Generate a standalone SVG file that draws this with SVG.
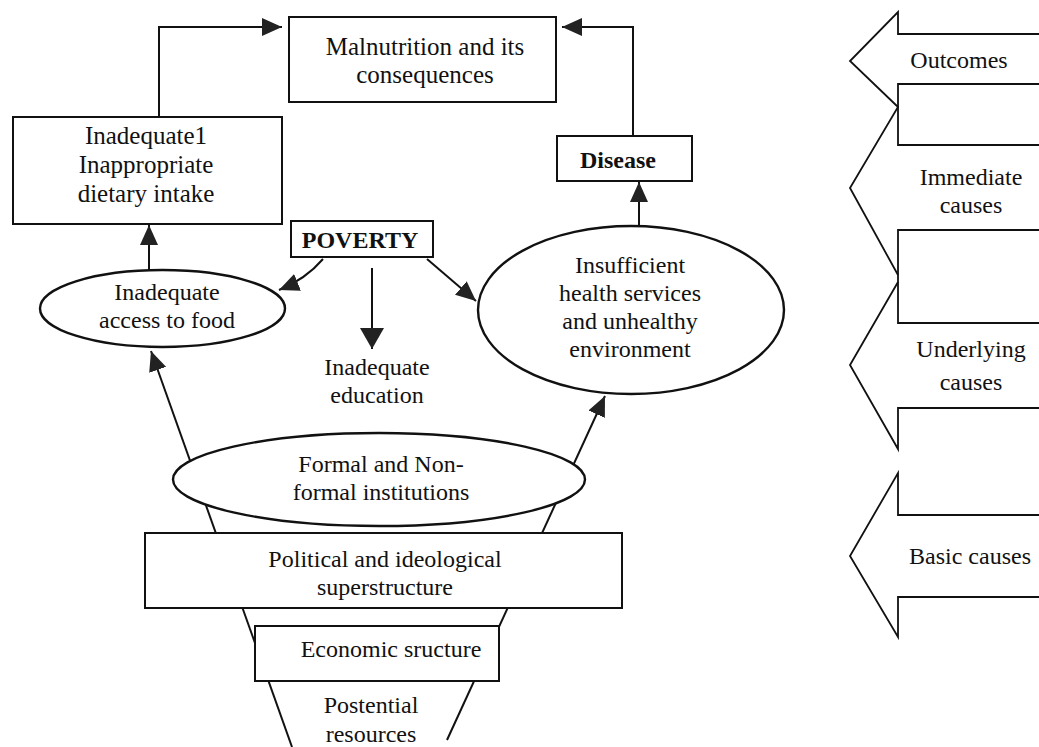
<svg xmlns="http://www.w3.org/2000/svg" width="1039" height="747" viewBox="0 0 1039 747">
  <style>
    .bg { fill: #ffffff; }
    .box { fill: #ffffff; stroke: #111; stroke-width: 2; }
    .oval { fill: #ffffff; stroke: #111; stroke-width: 2.4; }
    .wire { fill: none; stroke: #111; stroke-width: 2; }
    .band { fill: none; stroke: #111; stroke-width: 1.8; stroke-linejoin: miter; }
    .t { font-family: "Liberation Serif", "Times New Roman", serif; font-size: 24px; fill: #111; text-anchor: middle; }
    .big { font-size: 25px; }
    .b { font-weight: bold; }
  </style>
  <defs>
    <marker id="head" markerUnits="userSpaceOnUse" markerWidth="20" markerHeight="18" refX="20" refY="9" orient="auto">
      <path d="M0,0 L20,9 L0,18 z" fill="#222"/>
    </marker>
    <marker id="headWide" markerUnits="userSpaceOnUse" markerWidth="21" markerHeight="24" refX="21" refY="12" orient="auto">
      <path d="M0,0 L21,12 L0,24 z" fill="#222"/>
    </marker>
  </defs>

  <rect class="bg" x="0" y="0" width="1039" height="747"/>

  <!-- connectors (drawn first so that filled nodes sit over the funnel lines) -->
  <g id="connectors">
    <!-- dietary intake -> malnutrition -->
    <polyline class="wire" points="159,117 159,27 282,27" marker-end="url(#head)"/>
    <!-- disease -> malnutrition -->
    <polyline class="wire" points="633,136 633,27 562,27" marker-end="url(#head)"/>
    <!-- access to food -> dietary intake -->
    <line class="wire" x1="149" y1="271" x2="149" y2="225" marker-end="url(#head)"/>
    <!-- health services -> disease -->
    <line class="wire" x1="639" y1="227" x2="639" y2="182" marker-end="url(#head)"/>
    <!-- poverty -> access to food -->
    <path class="wire" d="M323,259 Q306,279 279,290" marker-end="url(#head)"/>
    <!-- poverty -> education -->
    <line class="wire" x1="372" y1="268" x2="372" y2="349" marker-end="url(#headWide)"/>
    <!-- poverty -> health services -->
    <line class="wire" x1="427" y1="259" x2="476" y2="301" marker-end="url(#head)"/>
    <!-- funnel sides, rising from resources to the two upper ovals -->
    <line class="wire" x1="292" y1="747" x2="151" y2="351" marker-end="url(#head)"/>
    <line class="wire" x1="447" y1="740" x2="605" y2="396" marker-end="url(#head)"/>
  </g>

  <g id="malnutrition">
    <rect class="box" x="289" y="17" width="267" height="85"/>
    <text class="t big" x="425" y="55">Malnutrition and its</text>
    <text class="t big" x="425" y="83">consequences</text>
  </g>

  <g id="dietary-intake">
    <rect class="box" x="13" y="117" width="269" height="107"/>
    <text class="t big" x="146" y="144">Inadequate1</text>
    <text class="t big" x="146" y="173">Inappropriate</text>
    <text class="t big" x="146" y="202">dietary intake</text>
  </g>

  <g id="disease">
    <rect class="box" x="557" y="136" width="135" height="45"/>
    <text class="t b" x="618" y="168">Disease</text>
  </g>

  <g id="poverty">
    <rect class="box" x="291" y="221" width="142" height="36"/>
    <text class="t b" x="360" y="248">POVERTY</text>
  </g>

  <g id="access-to-food">
    <ellipse class="oval" cx="162.5" cy="308.5" rx="122.5" ry="38.5"/>
    <text class="t" x="167" y="300">Inadequate</text>
    <text class="t" x="167" y="328">access to food</text>
  </g>

  <g id="education">
    <text class="t" x="377" y="375">Inadequate</text>
    <text class="t" x="377" y="403">education</text>
  </g>

  <g id="health-services">
    <ellipse class="oval" cx="631" cy="310" rx="153" ry="84"/>
    <text class="t" x="630" y="273">Insufficient</text>
    <text class="t" x="630" y="301">health services</text>
    <text class="t" x="630" y="329">and unhealthy</text>
    <text class="t" x="630" y="357">environment</text>
  </g>

  <g id="institutions">
    <ellipse class="oval" cx="379" cy="479.5" rx="206" ry="46.5"/>
    <text class="t" x="381" y="472">Formal and Non-</text>
    <text class="t" x="381" y="500">formal institutions</text>
  </g>

  <g id="superstructure">
    <rect class="box" x="145" y="533" width="477" height="75"/>
    <text class="t" x="385" y="567">Political and ideological</text>
    <text class="t" x="385" y="595">superstructure</text>
  </g>

  <g id="economic-structure">
    <rect class="box" x="255" y="626" width="244" height="55"/>
    <text class="t" x="391" y="657">Economic sructure</text>
  </g>

  <g id="resources">
    <text class="t" x="371" y="713">Postential</text>
    <text class="t" x="371" y="742">resources</text>
  </g>

  <!-- level scale: stacked left-pointing bands -->
  <g id="levels">
    <path class="band" d="M1039,34 L898,34 L898,12 L850,61 L898,107 L850,188 L898,275"/>
    <path class="band" d="M1039,84 L898,84 L898,145 L1039,145"/>
    <path class="band" d="M1039,230 L898,230 L898,323 L1039,323"/>
    <path class="band" d="M898,282 L850,365 L898,449 L898,408 L1039,408"/>
    <path class="band" d="M1039,515 L898,515 L898,473 L850,556 L898,637 L898,597 L1039,597"/>
    <text class="t" x="959" y="68">Outcomes</text>
    <text class="t" x="971" y="185">Immediate</text>
    <text class="t" x="971" y="213">causes</text>
    <text class="t" x="971" y="357">Underlying</text>
    <text class="t" x="971" y="390">causes</text>
    <text class="t" x="970" y="564">Basic causes</text>
  </g>
</svg>
